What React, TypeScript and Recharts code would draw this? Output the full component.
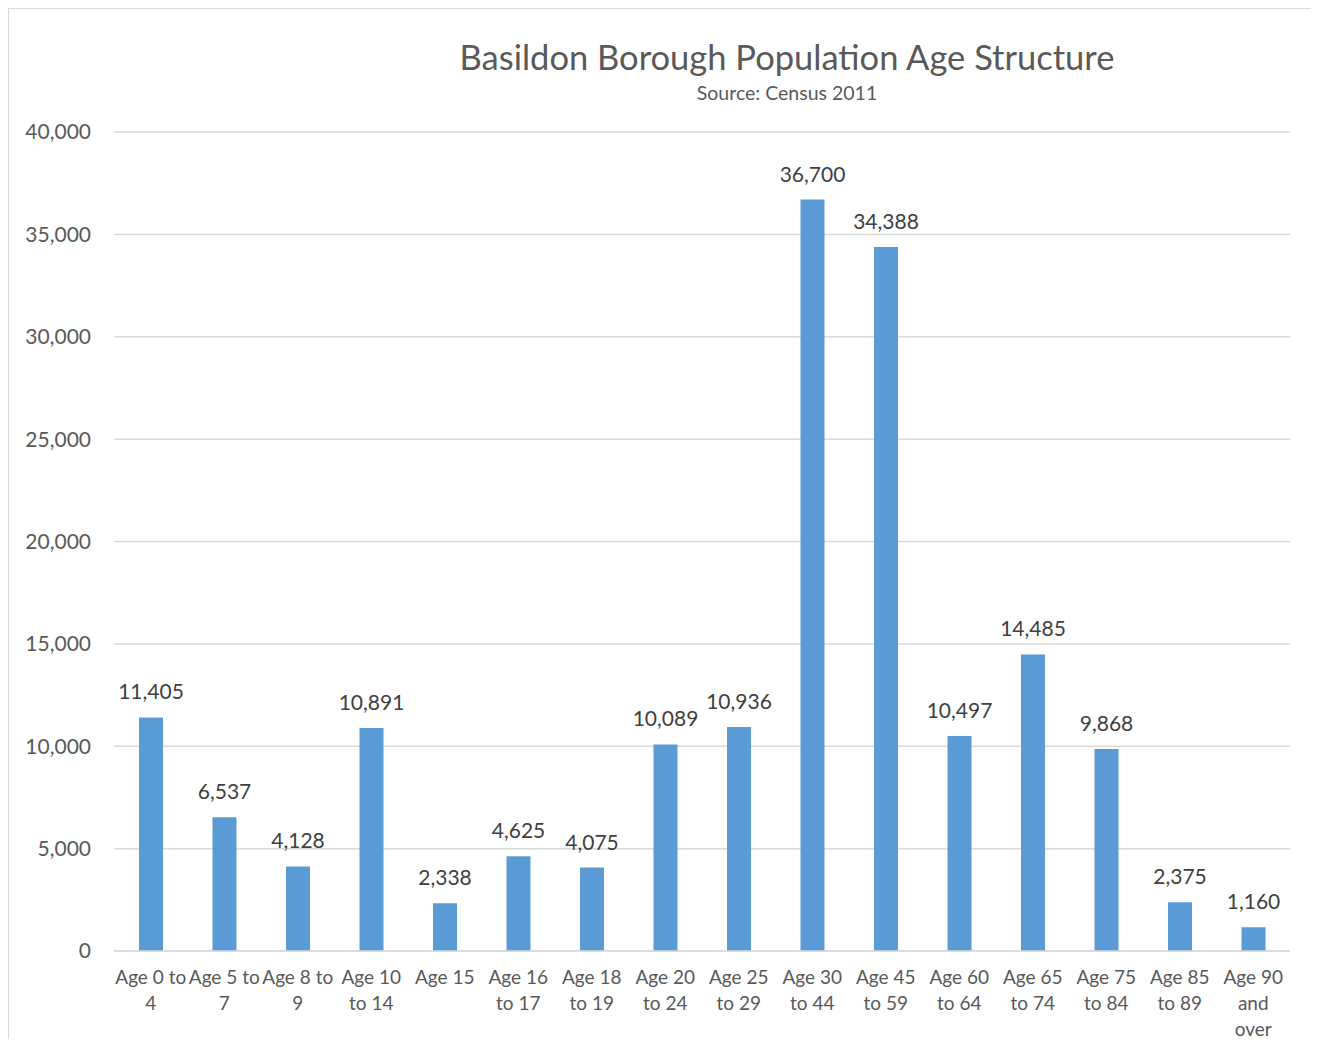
import { Bar, BarChart, CartesianGrid, LabelList, XAxis, YAxis } from 'recharts'

const FONT = 'Lato, "Open Sans", sans-serif'

const ageBands = [
  'Age 0 to 4', 'Age 5 to 7', 'Age 8 to 9', 'Age 10 to 14', 'Age 15', 'Age 16 to 17',
  'Age 18 to 19', 'Age 20 to 24', 'Age 25 to 29', 'Age 30 to 44', 'Age 45 to 59',
  'Age 60 to 64', 'Age 65 to 74', 'Age 75 to 84', 'Age 85 to 89', 'Age 90 and over',
]

// wrapped axis labels, one row per line
const tickLines = [
  ['Age 0 to', '4'], ['Age 5 to', '7'], ['Age 8 to', '9'], ['Age 10', 'to 14'], ['Age 15'],
  ['Age 16', 'to 17'], ['Age 18', 'to 19'], ['Age 20', 'to 24'], ['Age 25', 'to 29'],
  ['Age 30', 'to 44'], ['Age 45', 'to 59'], ['Age 60', 'to 64'], ['Age 65', 'to 74'],
  ['Age 75', 'to 84'], ['Age 85', 'to 89'], ['Age 90', 'and', 'over'],
]

const population = [
  11405, 6537, 4128, 10891, 2338, 4625, 4075, 10089, 10936, 36700, 34388, 10497, 14485, 9868,
  2375, 1160,
]

const yTicks = [0, 5000, 10000, 15000, 20000, 25000, 30000, 35000, 40000]

const data = ageBands.map((band, i) => ({ band, value: population[i] }))

const fmt = (v: number) => v.toLocaleString('en-US')

function AgeTick(props: any) {
  const { x, y, index } = props
  const lines = tickLines[index] ?? [props.payload.value]
  return (
    <text x={x} y={y} textAnchor="middle" fill="#595959" fontSize={19} fontFamily={FONT}>
      {lines.map((l: string, i: number) => (
        <tspan key={i} x={x} dy={i === 0 ? 33 : 26}>
          {l}
        </tspan>
      ))}
    </text>
  )
}

export default function App() {
  return (
    <div
      style={{
        position: 'relative',
        width: 1309,
        height: 1030,
        overflow: 'hidden',
        border: '1px solid #d9d9d9',
        borderBottom: 'none',
        background: '#fff',
        fontFamily: FONT,
      }}
    >
      <div
        style={{
          position: 'absolute',
          left: 0,
          width: 1556,
          top: 26,
          textAlign: 'center',
          fontSize: 34.5,
          color: '#595959',
          lineHeight: '44px',
        }}
      >
        Basildon Borough Population Age Structure
      </div>
      <div
        style={{
          position: 'absolute',
          left: 0,
          width: 1556,
          top: 72,
          textAlign: 'center',
          fontSize: 19.5,
          color: '#595959',
          lineHeight: '24px',
        }}
      >
        Source: Census 2011
      </div>
      <BarChart
        width={1309}
        height={1038}
        data={data}
        margin={{ top: 123, right: 28, bottom: 0, left: 10 }}
      >
        <CartesianGrid vertical={false} stroke="#d9d9d9" strokeWidth={1.5} />
        <XAxis
          dataKey="band"
          interval={0}
          height={96}
          tickLine={false}
          tickSize={0}
          tickMargin={0}
          axisLine={{ stroke: '#d9d9d9', strokeWidth: 1.5 }}
          tick={<AgeTick />}
        />
        <YAxis
          width={95}
          domain={[0, 40000]}
          ticks={yTicks}
          axisLine={false}
          tickLine={false}
          tickMargin={17}
          tickFormatter={fmt}
          tick={{ fill: '#595959', fontSize: 21, fontFamily: FONT }}
        />
        <Bar dataKey="value" fill="#5b9bd5" barSize={24} isAnimationActive={false}>
          <LabelList
            dataKey="value"
            position="top"
            offset={18}
            formatter={(v: any) => fmt(Number(v))}
            fill="#404040"
            fontSize={21}
            fontFamily={FONT}
          />
        </Bar>
      </BarChart>
    </div>
  )
}
